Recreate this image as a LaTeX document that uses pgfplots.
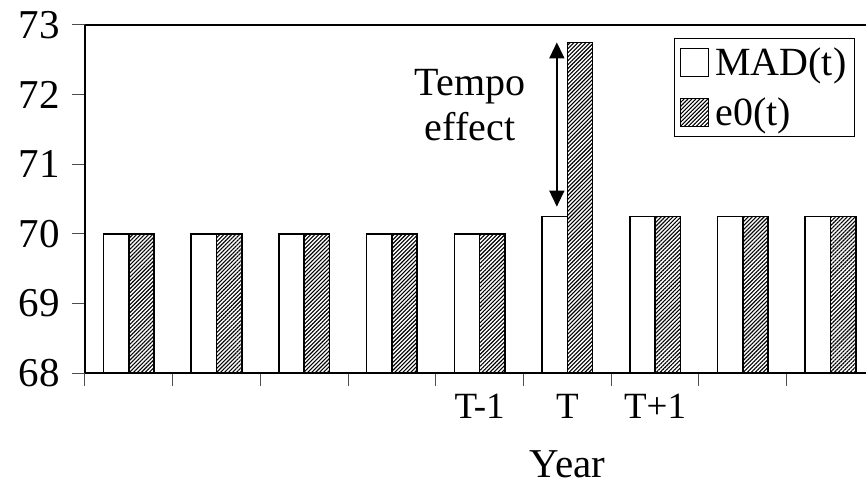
\documentclass[border=0pt]{standalone}
\usepackage{fontspec}
\setmainfont{Liberation Serif}
\usepackage{pgfplots}
\pgfplotsset{compat=1.18}
\usetikzlibrary{patterns.meta,arrows.meta}
\tikzset{hatch/.style={pattern={Lines[angle=45,distance=2.8pt,line width=1.1pt]}}}
\begin{document}
\begin{tikzpicture}
\begin{axis}[
  at={(0,0)}, anchor=south west,
  scale only axis, width=781pt, height=348pt,
  xmin=-0.5, xmax=8.405, ymin=68, ymax=73,
  ybar=0pt, bar width=25.3pt,
  axis x line*=bottom, axis y line*=left,
  axis line style={line width=2.2pt, -},
  ytick={68,69,70,71,72,73},
  xtick={4,5,6}, xticklabels={T-1,T,T+1},
  minor xtick={-0.5,0.5,...,7.5},
  tick align=outside,
  major tick length=13pt, minor tick length=13pt,
  xtick style={draw=none},
  minor x tick style={draw=black!70, line width=1pt},
  y tick style={draw=black!70, line width=1pt},
  /pgf/number format/assume math mode=true,
  yticklabel style={font=\fontsize{41}{41}\selectfont, inner sep=0pt, xshift=-12pt},
  xticklabel style={font=\fontsize{37}{37}\selectfont, anchor=base, yshift=-32pt},
  xlabel={Year},
  xlabel style={at={(axis cs:5,68)}, anchor=base, yshift=-104pt, font=\fontsize{41}{41}\selectfont},
  legend style={at={(0.754,0.962)}, anchor=north west, draw=black, line width=0.8pt,
    font=\fontsize{40}{40}\selectfont, inner xsep=6pt, inner ysep=7pt, row sep=17pt,
    legend cell align=left,
    /tikz/every odd column/.append style={column sep=4pt}},
]
\addplot[draw=black, line width=1.6pt, fill=white,
  legend image code/.code={\draw[draw=black,line width=1pt,fill=white] (0pt,-14pt) rectangle (28pt,14pt);}]
  coordinates {(0,70) (1,70) (2,70) (3,70) (4,70) (5,70.25) (6,70.25) (7,70.25) (8,70.25)};
\addlegendentry{MAD(t)}
\addplot[draw=black, line width=1.6pt, hatch,
  legend image code/.code={\draw[draw=black,line width=1pt,hatch] (0pt,-14pt) rectangle (28pt,14pt);}]
  coordinates {(0,70) (1,70) (2,70) (3,70) (4,70) (5,72.75) (6,70.25) (7,70.25) (8,70.25)};
\addlegendentry{e0(t)}
\draw[line width=2.2pt] (rel axis cs:0,1) -- (rel axis cs:1,1);
\draw[line width=1.5pt, {Triangle[length=16pt,width=15pt]}-{Triangle[length=16pt,width=15pt]}]
  (axis cs:4.88,72.75) -- (axis cs:4.88,70.39);
\node[align=center, font=\fontsize{40}{45}\selectfont] at (axis cs:3.89,71.85) {Tempo\\effect};
\end{axis}
\pgfresetboundingbox
\path[use as bounding box] (-85pt,-117pt) rectangle (781pt,373pt);
\end{tikzpicture}
\end{document}
